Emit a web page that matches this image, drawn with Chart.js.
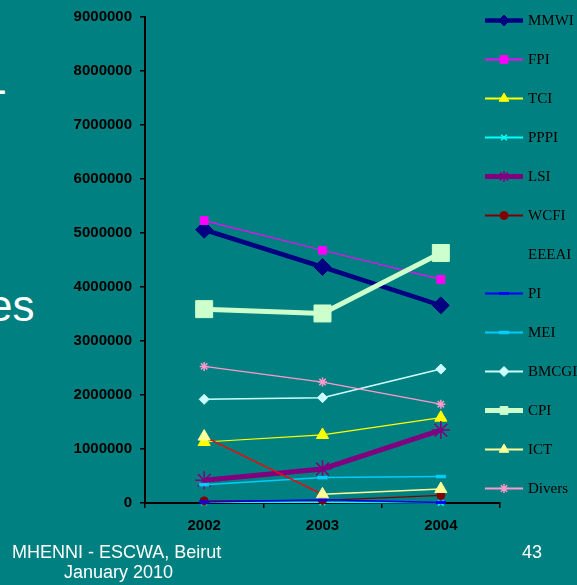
<!DOCTYPE html>
<html>
<head>
<meta charset="utf-8">
<script src="https://cdn.jsdelivr.net/npm/chart.js@4.4.0/dist/chart.umd.min.js"></script>
<style>
  body { margin: 0; background: #008080; overflow: hidden; }
  .slide { position: relative; width: 577px; height: 585px; background: #008080; font-family: 'Liberation Sans', Arial, sans-serif; color: #fff; overflow: hidden; }
  #chart { position: absolute; left: 0; top: 0; }
  .txt { position: absolute; white-space: nowrap; }
</style>
</head>
<body>
<div class="slide">
  <div class="txt" style="left:-8px; top:64px; font-size:44px;">-</div>
  <div class="txt" style="left:-12px; top:281px; font-size:44px;">es</div>
  <canvas id="chart" width="577" height="585"></canvas>
  <div class="txt" style="left:12px; top:542px; font-size:18px;">MHENNI - ESCWA, Beirut</div>
  <div class="txt" style="left:64px; top:562px; font-size:18px;">January 2010</div>
  <div class="txt" style="left:522px; top:542px; font-size:18px;">43</div>
</div>
<script>
// categories
const years = ['2002', '2003', '2004'];

// series values
const mmwi   = [5060000, 4370000, 3660000];
const fpi    = [5230000, 4680000, 4140000];
const tci    = [1130000, 1260000, 1580000];
const pppi   = [10000, 10000, 0];
const lsi    = [420000, 630000, 1350000];
const wcfi   = [40000, 50000, 140000];
const eeeai  = [null, null, null];
const pi     = [20000, 60000, 10000];
const mei    = [340000, 470000, 490000];
const bmcgi  = [1920000, 1950000, 2480000];
const cpi    = [3590000, 3510000, 4630000];
const ict    = [1230000, 160000, 260000];
const divers = [2530000, 2240000, 1830000];

// y tick range
const yMin = 0, yMax = 9000000, yStep = 1000000;

function series(label, data, color, width, style, radius, extra) {
    return Object.assign({
        label: label,
        data: data,
        borderColor: color,
        backgroundColor: color,
        borderWidth: width,
        pointStyle: style,
        pointRadius: radius,
        pointBackgroundColor: color,
        pointBorderColor: color,
        pointBorderWidth: 1,
        tension: 0,
        clip: false
    }, extra || {});
}

const datasets = [
    series('MMWI', mmwi, '#000080', 4.5, 'rectRot', 8.5),
    series('FPI', fpi, '#FF00FF', 1.2, 'rect', 5.5),
    series('TCI', tci, '#FFFF00', 1.2, 'triangle', 7),
    series('PPPI', pppi, '#00FFFF', 1.2, 'crossRot', 4, { pointBorderWidth: 1.5 }),
    series('LSI', lsi, '#800080', 5, 'star', 9, { pointBorderWidth: 1.5 }),
    series('WCFI', wcfi, '#800000', 1.2, 'circle', 4),
    series('EEEAI', eeeai, 'rgba(0,0,0,0)', 0, false, 0, { showLine: false }),
    series('PI', pi, '#0000FF', 1.5, 'line', 5, { pointBorderWidth: 3 }),
    series('MEI', mei, '#00CCFF', 1.5, 'line', 5, { pointBorderWidth: 3.5 }),
    series('BMCGI', bmcgi, '#CCFFFF', 1.5, 'rectRot', 5),
    series('CPI', cpi, '#CCFFCC', 5, 'rect', 12),
    series('ICT', ict, '#FFFF99', 1.5, 'triangle', 7, {
        segment: { borderColor: c => c.p0DataIndex === 0 ? '#FF0000' : undefined }
    }),
    series('Divers', divers, '#FF99CC', 1.2, 'star', 4.5, { pointBorderWidth: 1.5 })
];
// later series are drawn on top, as in the original
datasets.forEach((d, i) => { d.order = -i; });

// legend: line with marker in the middle, serif labels
const sideLegend = {
    id: 'sideLegend',
    afterDraw(chart) {
        const ctx = chart.ctx;
        ctx.save();
        chart.data.datasets.forEach((d, i) => {
            const y = 20.5 + 39 * i;
            if (d.showLine !== false) {
                ctx.strokeStyle = d.borderColor;
                ctx.lineWidth = Math.max(d.borderWidth, 1.8);
                ctx.beginPath();
                ctx.moveTo(485, y);
                ctx.lineTo(523, y);
                ctx.stroke();
                ctx.fillStyle = d.pointBackgroundColor;
                ctx.strokeStyle = d.pointBorderColor;
                ctx.lineWidth = d.pointBorderWidth;
                Chart.helpers.drawPoint(ctx, {
                    pointStyle: d.pointStyle,
                    radius: Math.min(d.pointRadius, 5.5),
                    rotation: 0,
                    borderWidth: d.pointBorderWidth
                }, 504, y);
            }
            ctx.fillStyle = '#000';
            ctx.font = '15px "Liberation Serif", "Times New Roman", serif';
            ctx.textBaseline = 'middle';
            ctx.textAlign = 'left';
            ctx.fillText(d.label, 528, y + 1);
        });
        ctx.restore();
    }
};

new Chart(document.getElementById('chart'), {
    type: 'line',
    data: { labels: years, datasets: datasets },
    options: {
        responsive: false,
        animation: false,
        layout: { padding: { left: 0, top: 16, right: 77, bottom: 0 } },
        plugins: {
            legend: { display: false },
            tooltip: { enabled: false }
        },
        scales: {
            x: {
                offset: true,
                grid: { display: true, drawOnChartArea: false, offset: true, tickLength: 5, color: '#000', lineWidth: 1.5 },
                border: { color: '#000', width: 2 },
                ticks: {
                    color: '#000',
                    padding: 9,
                    font: { family: '"Liberation Sans", Arial, sans-serif', weight: 'bold', size: 15 }
                },
                afterFit: s => { s.height = 82; }
            },
            y: {
                min: yMin,
                max: yMax,
                grid: { display: true, drawOnChartArea: false, tickLength: 5, color: '#000', lineWidth: 1.5 },
                border: { color: '#000', width: 2 },
                ticks: {
                    stepSize: yStep,
                    color: '#000',
                    padding: 8,
                    callback: v => String(v),
                    font: { family: '"Liberation Sans", Arial, sans-serif', weight: 'bold', size: 15 }
                },
                afterFit: s => { s.width = 145; }
            }
        }
    },
    plugins: [sideLegend]
});
</script>
</body>
</html>
